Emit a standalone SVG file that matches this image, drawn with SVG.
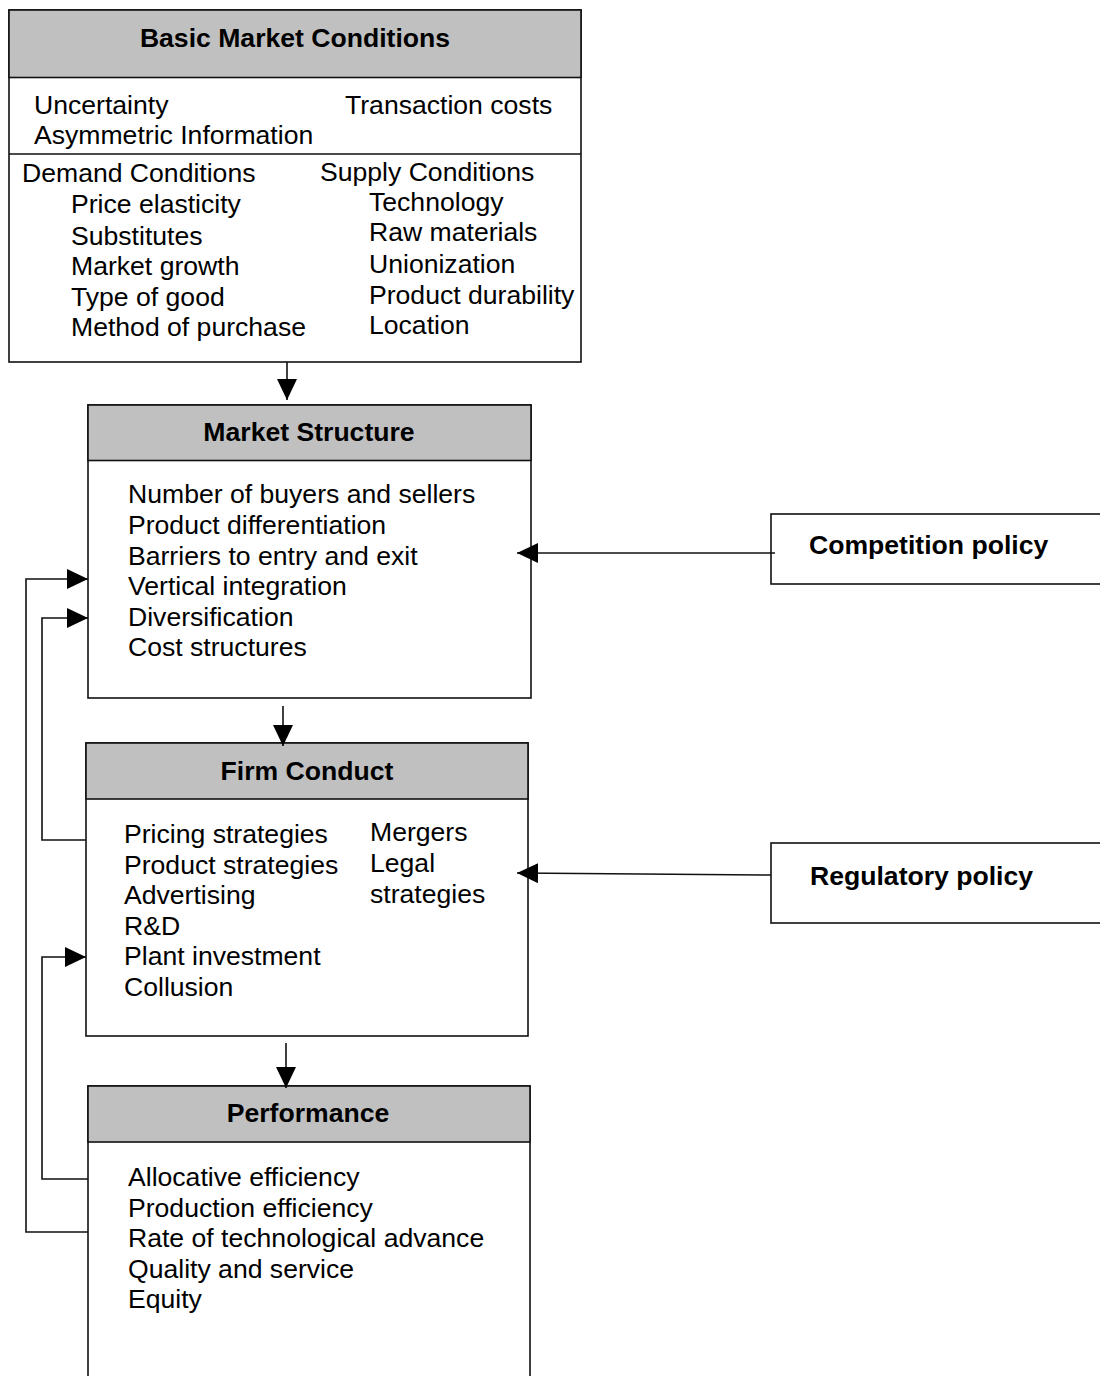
<svg xmlns="http://www.w3.org/2000/svg" width="1100" height="1376" viewBox="0 0 1100 1376">
<style>
.t{font-family:"Liberation Sans",Arial,sans-serif;font-size:25px;fill:#000}
.b{font-weight:bold}
.m{text-anchor:middle}
.box{fill:#fff;stroke:#111;stroke-width:1.6}
.hdr{fill:#c0c0c0;stroke:#111;stroke-width:1.6}
.ln{fill:none;stroke:#111;stroke-width:1.6}
</style>
<defs>
<marker id="ah" markerUnits="userSpaceOnUse" markerWidth="21" markerHeight="20" refX="21" refY="10" orient="auto">
<path d="M0,0 L21,10 L0,20 z" fill="#000"/>
</marker>
</defs>
<rect width="1100" height="1376" fill="#fff"/>

<g id="basic-market-conditions">
<rect class="box" x="9" y="10" width="572" height="352"/>
<rect class="hdr" x="9" y="10" width="572" height="67.5"/>
<line class="ln" x1="9" y1="154" x2="581" y2="154"/>
<text class="t b m" transform="translate(295,47) scale(1.064,1)">Basic Market Conditions</text>
<text class="t" transform="translate(34,114) scale(1.064,1)">Uncertainty</text>
<text class="t" transform="translate(345,114) scale(1.064,1)">Transaction costs</text>
<text class="t" transform="translate(34,144) scale(1.064,1)">Asymmetric Information</text>
<text class="t" transform="translate(22,182) scale(1.064,1)">Demand Conditions</text>
<text class="t" transform="translate(320,181) scale(1.064,1)">Supply Conditions</text>
<text class="t" transform="translate(71,213) scale(1.064,1)">Price elasticity</text>
<text class="t" transform="translate(71,244.5) scale(1.064,1)">Substitutes</text>
<text class="t" transform="translate(71,275) scale(1.064,1)">Market growth</text>
<text class="t" transform="translate(71,305.5) scale(1.064,1)">Type of good</text>
<text class="t" transform="translate(71,336) scale(1.064,1)">Method of purchase</text>
<text class="t" transform="translate(369,210.5) scale(1.064,1)">Technology</text>
<text class="t" transform="translate(369,241) scale(1.064,1)">Raw materials</text>
<text class="t" transform="translate(369,273) scale(1.064,1)">Unionization</text>
<text class="t" transform="translate(369,303.5) scale(1.064,1)">Product durability</text>
<text class="t" transform="translate(369,333.5) scale(1.064,1)">Location</text>
</g>

<g id="market-structure">
<rect class="box" x="88" y="405" width="443" height="293"/>
<rect class="hdr" x="88" y="405" width="443" height="55.5"/>
<text class="t b m" transform="translate(309,441) scale(1.064,1)">Market Structure</text>
<text class="t" transform="translate(128,503) scale(1.064,1)">Number of buyers and sellers</text>
<text class="t" transform="translate(128,533.5) scale(1.064,1)">Product differentiation</text>
<text class="t" transform="translate(128,564.5) scale(1.064,1)">Barriers to entry and exit</text>
<text class="t" transform="translate(128,595) scale(1.064,1)">Vertical integration</text>
<text class="t" transform="translate(128,626) scale(1.064,1)">Diversification</text>
<text class="t" transform="translate(128,656) scale(1.064,1)">Cost structures</text>
</g>

<g id="firm-conduct">
<rect class="box" x="86" y="743" width="442" height="293"/>
<rect class="hdr" x="86" y="743" width="442" height="56"/>
<text class="t b m" transform="translate(307,779.5) scale(1.064,1)">Firm Conduct</text>
<text class="t" transform="translate(124,843) scale(1.064,1)">Pricing strategies</text>
<text class="t" transform="translate(124,873.5) scale(1.064,1)">Product strategies</text>
<text class="t" transform="translate(124,903.5) scale(1.064,1)">Advertising</text>
<text class="t" transform="translate(124,934.5) scale(1.064,1)">R&amp;D</text>
<text class="t" transform="translate(124,965) scale(1.064,1)">Plant investment</text>
<text class="t" transform="translate(124,996) scale(1.064,1)">Collusion</text>
<text class="t" transform="translate(370,841) scale(1.064,1)">Mergers</text>
<text class="t" transform="translate(370,872) scale(1.064,1)">Legal</text>
<text class="t" transform="translate(370,903) scale(1.064,1)">strategies</text>
</g>

<g id="performance">
<rect class="box" x="88" y="1086" width="442" height="310"/>
<rect class="hdr" x="88" y="1086" width="442" height="56"/>
<text class="t b m" transform="translate(308,1122) scale(1.064,1)">Performance</text>
<text class="t" transform="translate(128,1186) scale(1.064,1)">Allocative efficiency</text>
<text class="t" transform="translate(128,1217) scale(1.064,1)">Production efficiency</text>
<text class="t" transform="translate(128,1247) scale(1.064,1)">Rate of technological advance</text>
<text class="t" transform="translate(128,1277.5) scale(1.064,1)">Quality and service</text>
<text class="t" transform="translate(128,1308) scale(1.064,1)">Equity</text>
</g>

<g id="competition-policy">
<rect class="box" x="771" y="514" width="340" height="70"/>
<text class="t b" transform="translate(809,554) scale(1.064,1)">Competition policy</text>
</g>

<g id="regulatory-policy">
<rect class="box" x="771" y="843" width="340" height="80"/>
<text class="t b" transform="translate(810,885) scale(1.064,1)">Regulatory policy</text>
</g>

<g id="connectors">
<path class="ln" d="M287,362 V400" marker-end="url(#ah)"/>
<path class="ln" d="M283,706 V746" marker-end="url(#ah)"/>
<path class="ln" d="M286,1043 V1088" marker-end="url(#ah)"/>
<path class="ln" d="M88,1232 H26 V579 H88" marker-end="url(#ah)"/>
<path class="ln" d="M86,840 H42 V618 H88" marker-end="url(#ah)"/>
<path class="ln" d="M88,1179 H42 V957 H86" marker-end="url(#ah)"/>
<path class="ln" d="M775,553 H517" marker-end="url(#ah)"/>
<path class="ln" d="M771,875 L517,873" marker-end="url(#ah)"/>
</g>
</svg>
